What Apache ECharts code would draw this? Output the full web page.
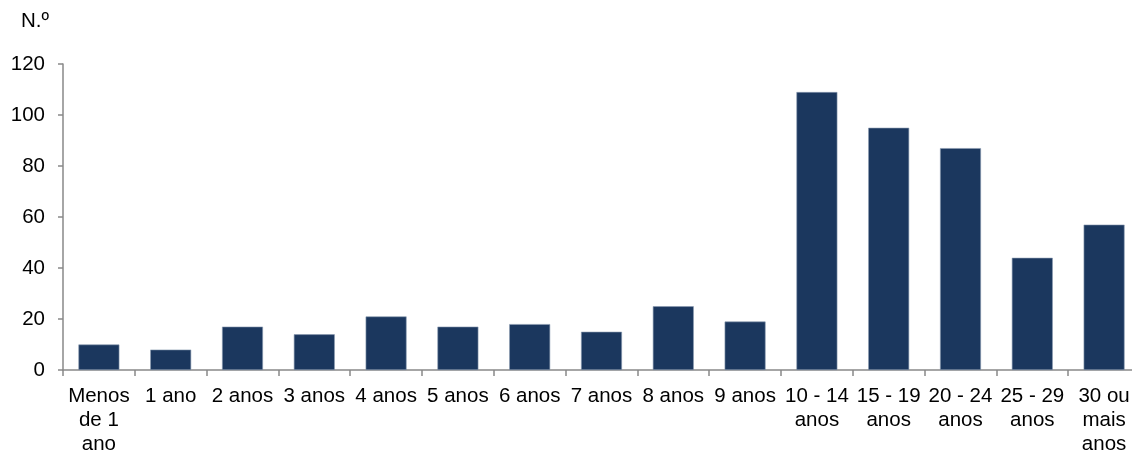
<!DOCTYPE html>
<html><head><meta charset="utf-8">
<script src="https://cdn.jsdelivr.net/npm/echarts@6/dist/echarts.min.js"></script>
<style>html,body{margin:0;padding:0;background:#fff}#c{width:1132px;height:450px}</style>
</head><body><div id="c"></div>
<script>
const categories = ["Menos\nde 1\nano","1 ano","2 anos","3 anos","4 anos","5 anos","6 anos","7 anos","8 anos","9 anos","10 - 14\nanos","15 - 19\nanos","20 - 24\nanos","25 - 29\nanos","30 ou\nmais\nanos"];
const values = [10,8,17,14,21,17,18,15,25,19,109,95,87,44,57];
const yTicks = {min:0,max:120,interval:20};
const yTitle = "N.º";

const chart = echarts.init(document.getElementById('c'));
const font = "'Liberation Sans', Arial, sans-serif";
const fs = 20.5;
chart.setOption({
  animation:false,
  grid:{left:63,top:64,width:1077,bottom:80,containLabel:false,outerBoundsMode:'none'},
  graphic:[{type:'text',left:21,top:11,style:{text:yTitle,font:fs+"px "+font,fill:'#000'}}],
  xAxis:{type:'category',data:categories,
    axisLine:{lineStyle:{color:'#898989',width:1.5}},
    axisTick:{show:true,length:6,lineStyle:{color:'#898989',width:1.5}},
    axisLabel:{color:'#000',fontFamily:font,fontSize:fs,lineHeight:24,margin:14,interval:0}},
  yAxis:{type:'value',min:yTicks.min,max:yTicks.max,interval:yTicks.interval,
    splitLine:{show:false},
    axisLine:{show:true,lineStyle:{color:'#898989',width:1.5}},
    axisTick:{show:true,length:5,lineStyle:{color:'#898989',width:1.5}},
    axisLabel:{color:'#000',fontFamily:font,fontSize:fs,margin:18}},
  series:[{type:'bar',data:values,barCategoryGap:'43%',
    itemStyle:{color:'#1b375e',borderColor:'#8a9ab0',borderWidth:0.6}}]
});
</script></body></html>
